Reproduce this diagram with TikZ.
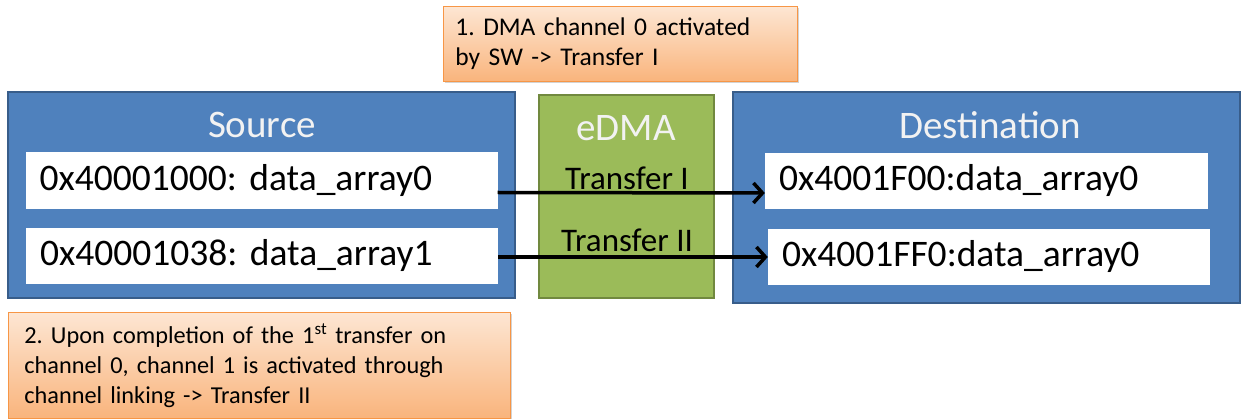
\documentclass[tikz,border=0pt]{standalone}
\usepackage{fontspec}
\setmainfont{Carlito}
\usetikzlibrary{arrows.meta,shadows,calc}
\definecolor{blueF}{HTML}{4F81BD}
\definecolor{blueD}{HTML}{385D8A}
\definecolor{greenF}{HTML}{9BBB59}
\definecolor{greenD}{HTML}{71893F}
\definecolor{noteT}{HTML}{FDE6D3}
\definecolor{noteB}{HTML}{F9B47C}
\definecolor{noteD}{HTML}{F79646}
\definecolor{titleW}{HTML}{F2F2F2}
\tikzset{
  panel/.style={draw=blueD, line width=1.6pt, fill=blueF, inner sep=0pt},
  engine/.style={draw=greenD, line width=2pt, fill=greenF, inner sep=0pt},
  slot/.style={fill=white, inner ysep=0pt, inner xsep=14pt, align=left,
    font=\fontsize{37.5}{40}\selectfont},
  heading/.style={text=titleW, inner sep=0pt, font=\fontsize{39}{42}\selectfont},
  xferlabel/.style={inner sep=0pt, font=\fontsize{33}{35}\selectfont},
  note/.style={draw=noteD, line width=0.8pt, top color=noteT, bottom color=noteB,
    inner ysep=0pt, align=left, text width=#1,
    drop shadow={opacity=0.35, shadow xshift=2pt, shadow yshift=-2pt}},
  xfer/.style={line width=3.5pt, -{Straight Barb[length=9pt,width=20pt,line width=3.5pt]}}
}
\begin{document}
\frenchspacing
\begin{tikzpicture}[x=1pt,y=-1pt]
  \useasboundingbox (0,0) rectangle (1246,419);

  % step notes
  \node[note=330pt, inner xsep=12pt, minimum height=75pt, anchor=north west,
        font=\fontsize{25.5}{30}\selectfont] (n1) at (443,6)
    {1. DMA channel 0 activated\\by SW -> Transfer I};

  % source memory
  \node[panel, minimum width=507pt, minimum height=206pt] (src) at (261.5,195) {};
  \node[heading] (srct) at (262,125) {Source};
  \node[slot, text width=444pt, minimum height=57pt] (s1) at (261.5,180.5) {0x40001000: data\_array0};
  \node[slot, text width=444pt, minimum height=56pt] (s2) at (262,256) {0x40001038: data\_array1};

  % eDMA engine
  \node[engine, minimum width=175pt, minimum height=203pt] (dma) at (626.5,196.5) {};
  \node[heading] (dmat) at (626,128) {eDMA};

  % destination memory
  \node[panel, minimum width=507pt, minimum height=211pt] (dst) at (986.5,197.5) {};
  \node[heading] (dstt) at (990,125) {Destination};
  \node[slot, text width=415pt, minimum height=56pt] (d1) at (986.5,181) {0x4001F00:data\_array0};
  \node[slot, text width=414pt, minimum height=56pt] (d2) at (989,257) {0x4001FF0:data\_array0};

  % transfers
  \node[xferlabel] (t1) at (627,178) {Transfer I};
  \node[xferlabel] (t2) at (627,240) {Transfer II};
  \draw[xfer] ($(s1.east)+(0,12)$) -- ($(d1.west)+(0,12)$);
  \draw[xfer] ($(s2.east)+(0,1)$) -- ($(d2.west)+(0,0)$);

  \node[note=470pt, inner xsep=16pt, minimum height=106pt, anchor=north west,
        font=\fontsize{24.3}{30}\selectfont] (n2) at (8,312)
    {2. Upon completion of the 1\textsuperscript{st} transfer on\\channel 0, channel 1 is activated through\\channel linking -> Transfer II};
\end{tikzpicture}
\end{document}
